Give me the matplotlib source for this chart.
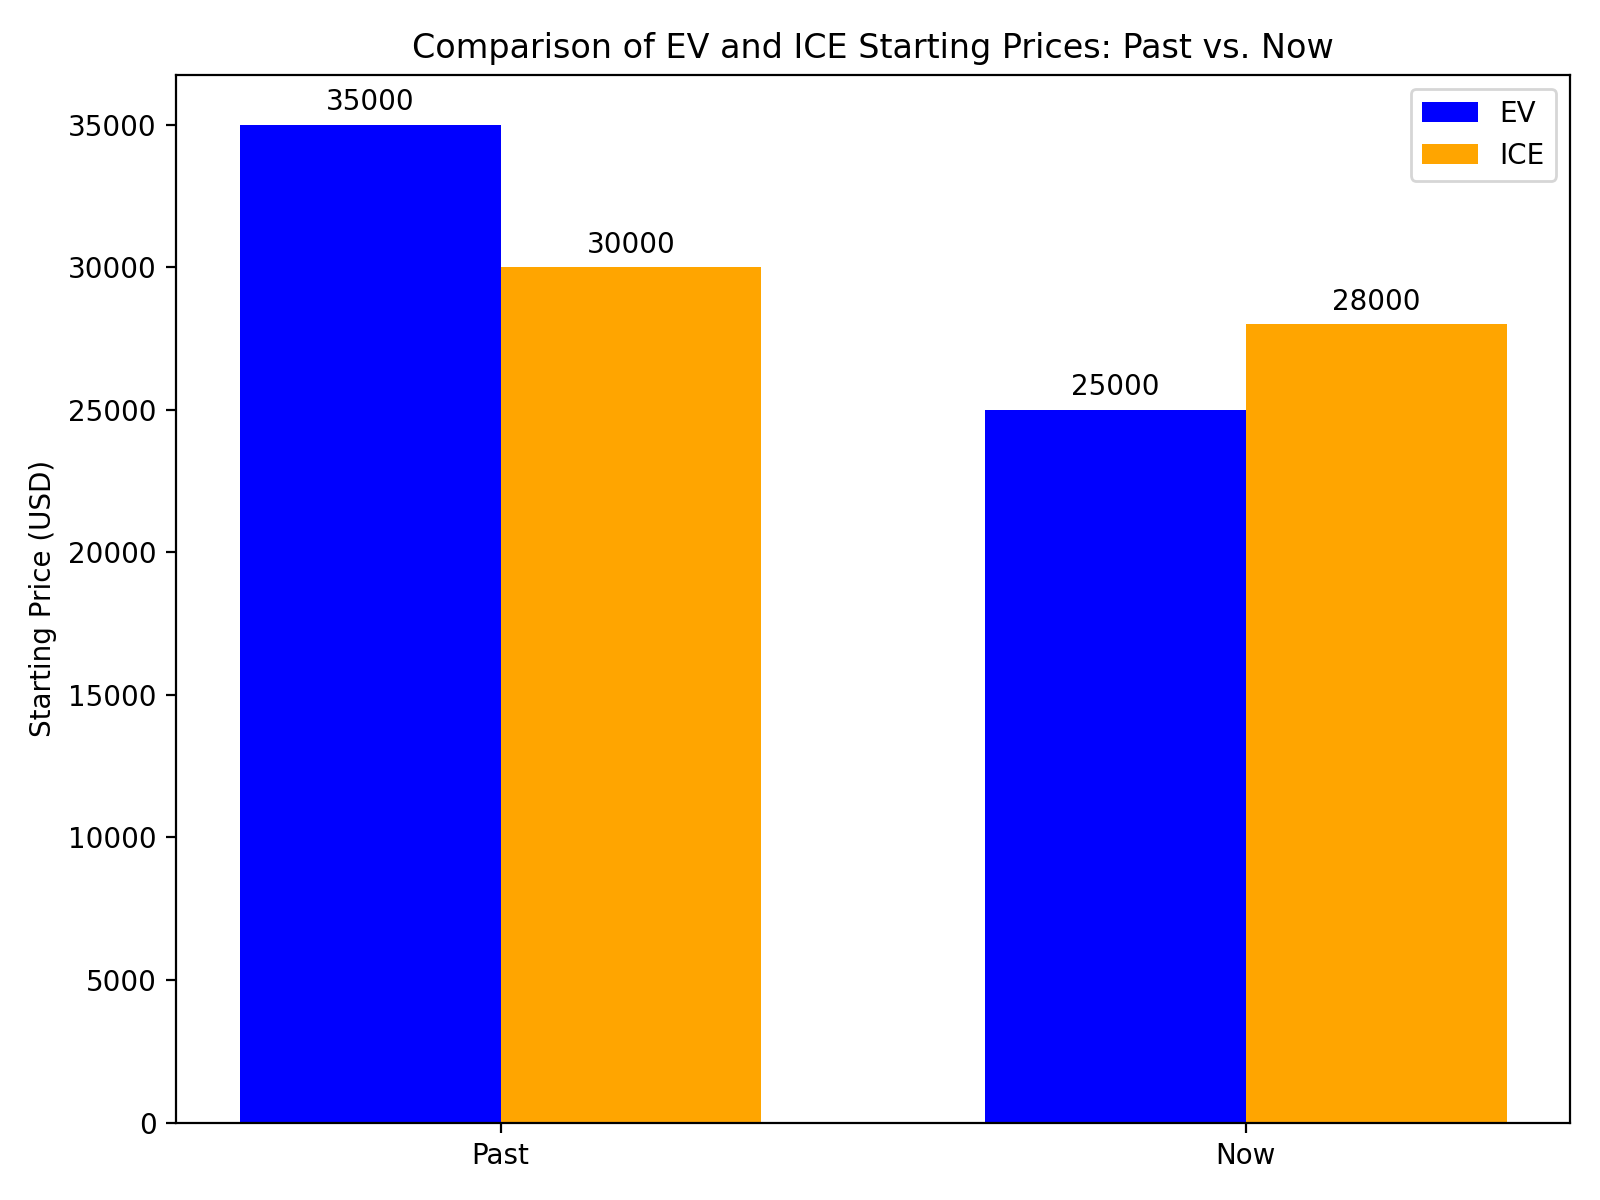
import numpy as np
import matplotlib.pyplot as plt

periods = ['Past', 'Now']
ev_prices = [35000, 25000]
ice_prices = [30000, 28000]

x = np.arange(len(periods))
width = 0.35

fig, ax = plt.subplots(figsize=(8, 6))
bars1 = ax.bar(x - width / 2, ev_prices, width, label='EV', color='blue')
bars2 = ax.bar(x + width / 2, ice_prices, width, label='ICE', color='orange')

ax.set_ylabel('Starting Price (USD)')
ax.set_title('Comparison of EV and ICE Starting Prices: Past vs. Now')
ax.set_xticks(x)
ax.set_xticklabels(periods)
ax.legend()

# 柱顶数值标注
for bars in (bars1, bars2):
    for bar in bars:
        h = bar.get_height()
        ax.annotate(f'{h}', xy=(bar.get_x() + bar.get_width() / 2, h),
                    xytext=(0, 3), textcoords='offset points',
                    ha='center', va='bottom')

plt.tight_layout()
plt.savefig('out.png', dpi=200)
